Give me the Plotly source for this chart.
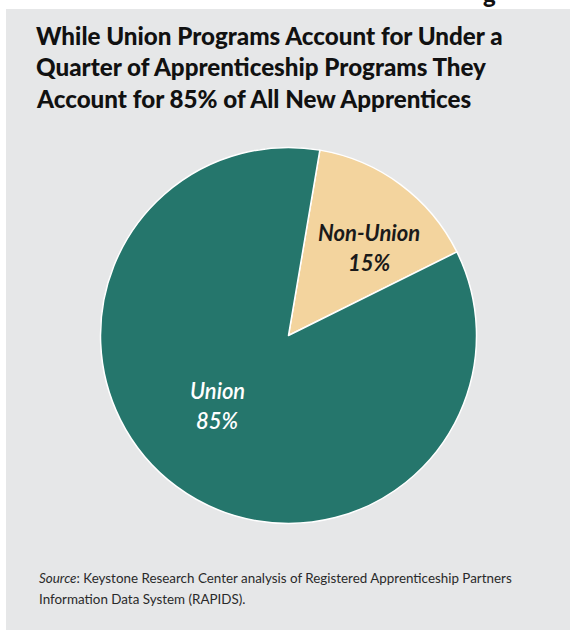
import plotly.graph_objects as go

# Share of new apprentices by program type
categories = ["Non-Union", "Union"]
shares = [15, 85]
slice_colors = ["#f3d49e", "#25766c"]

title_lines = [
    "While Union Programs Account for Under a",
    "Quarter of Apprenticeship Programs They",
    "Account for 85% of All New Apprentices",
]
source_lines = [
    "<i>Source</i>: Keystone Research Center analysis of Registered Apprenticeship Partners",
    "Information Data System (RAPIDS).",
]

W, H = 570, 630


def px(x):
    return x / W


def py(y):
    return 1 - y / H


fig = go.Figure(
    go.Pie(
        labels=categories,
        values=shares,
        sort=False,
        direction="clockwise",
        rotation=9.6,
        marker=dict(colors=slice_colors, line=dict(color="#ffffff", width=1.5)),
        textinfo="none",
        hoverinfo="label+percent",
        showlegend=False,
        domain=dict(x=[px(100.5), px(476.5)], y=[py(523.5), py(147.5)]),
    )
)

annotations = []

# Title block
for i, line in enumerate(title_lines):
    annotations.append(dict(
        text=line, xref="paper", yref="paper",
        x=px(34), y=py(35 + i * 31.5), xanchor="left", yanchor="middle",
        showarrow=False,
        font=dict(family="Lato", size=24.2, color="#111111", weight=900),
    ))

# Slice labels
label_pos = {"Non-Union": (369, 232, 262), "Union": (217, 390, 420)}
label_style = {
    "Non-Union": dict(family="Lato", size=22, color="#1a1a1a", weight="bold", style="italic"),
    "Union": dict(family="Lato", size=22, color="#ffffff", weight=600, style="italic"),
}
for cat, val in zip(categories, shares):
    x, y1, y2 = label_pos[cat]
    annotations.append(dict(
        text=cat, xref="paper", yref="paper", x=px(x), y=py(y1),
        xanchor="center", yanchor="middle", showarrow=False, font=label_style[cat],
    ))
    annotations.append(dict(
        text=f"{val}%", xref="paper", yref="paper", x=px(x), y=py(y2),
        xanchor="center", yanchor="middle", showarrow=False, font=label_style[cat],
    ))

# Source note
for i, line in enumerate(source_lines):
    annotations.append(dict(
        text=line, xref="paper", yref="paper",
        x=px(37), y=py(578 + i * 21), xanchor="left", yanchor="middle",
        showarrow=False,
        font=dict(family="Lato", size=13.4, color="#2a2a2a"),
    ))

# Descender of a heading letter running off the top edge
annotations.append(dict(
    text="g", xref="paper", yref="paper", x=px(481), y=py(-7),
    xanchor="left", yanchor="middle", showarrow=False,
    font=dict(family="Lato", size=24, color="#111111", weight=900),
))

fig.update_layout(
    width=W, height=H,
    margin=dict(l=0, r=0, t=0, b=0),
    paper_bgcolor="#ffffff",
    plot_bgcolor="#ffffff",
    annotations=annotations,
    shapes=[dict(
        type="rect", xref="paper", yref="paper",
        x0=px(6), x1=1.0, y0=0.0, y1=py(9),
        fillcolor="#e6e7e8", line=dict(width=0), layer="below",
    )],
)

fig.write_html("out.html")
